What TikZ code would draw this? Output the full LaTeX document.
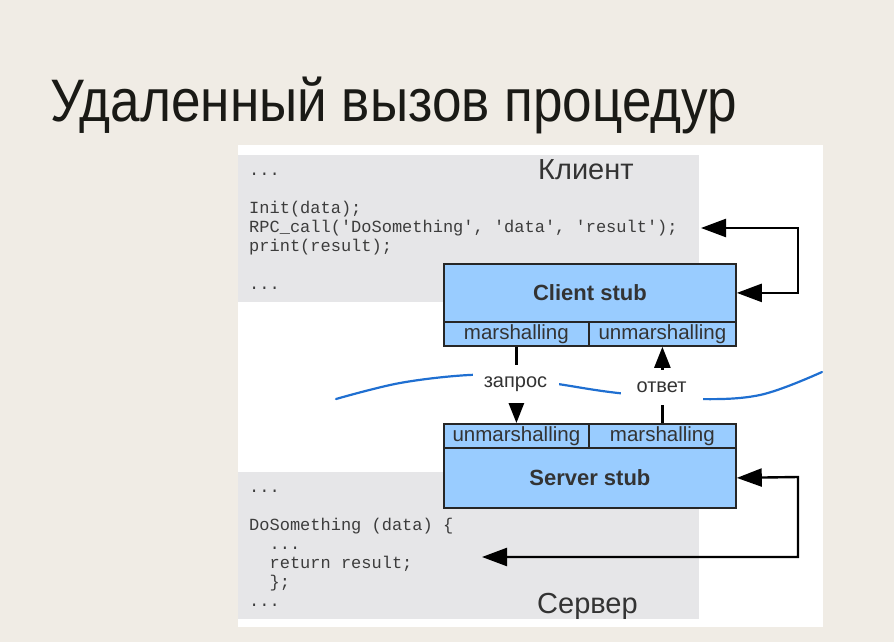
\documentclass[tikz,border=0pt]{standalone}
\usepackage{fontspec}
\usepackage{graphicx}
\setmainfont{Liberation Sans}
\newfontfamily\codefont[Ligatures=TeXOff]{Liberation Mono}
\usetikzlibrary{arrows.meta}

\definecolor{slidebg}{HTML}{F0ECE5}
\definecolor{codebg}{HTML}{E6E6E8}
\definecolor{stubfill}{HTML}{99CCFF}
\definecolor{wire}{HTML}{1F6FD1}
\definecolor{ink}{HTML}{333333}
\definecolor{codeink}{HTML}{3C3C3C}
\definecolor{titleink}{HTML}{1A1A16}

\tikzset{
  cell/.style={draw=black!85, line width=1.8pt, fill=stubfill, inner sep=0pt,
    anchor=north west, text=ink, font=\fontsize{20.5}{24}\selectfont},
  stubname/.style={cell, font=\fontsize{22}{26}\selectfont\bfseries},
  codeline/.style={anchor=base west, inner sep=0pt, text=codeink,
    font=\codefont\fontsize{17}{19}\selectfont},
  sidename/.style={anchor=base west, inner sep=0pt, text=ink,
    font=\fontsize{29}{32}\selectfont},
  flowlabel/.style={fill=white, inner sep=0pt, text=ink,
    font=\fontsize{20}{24}\selectfont},
  link/.style={line width=2.4pt, black,
    {Triangle[length=25pt,width=18pt]}-{Triangle[length=25pt,width=18pt]}},
  pass/.style={line width=2.4pt, black, -{Triangle[length=21pt,width=16pt]}},
}

\begin{document}
\begin{tikzpicture}[x=1pt, y=-1pt]
  % slide background and white panel
  \fill[slidebg] (0,0) rectangle (894,642);
  \useasboundingbox (0,0) rectangle (894,642);
  \fill[white] (238,145) rectangle (823,627);
  \fill[codebg] (238,155) rectangle (699,302);
  \fill[codebg] (238,472) rectangle (699,619);

  % title
  \node[anchor=base west, inner sep=0pt, text=titleink,
        font=\fontsize{60}{66}\selectfont] (title) at (50,121)
        {\scalebox{0.885}[1]{Удаленный вызов процедур}};

  % client code
  \node[codeline] (c1) at (249,175) {...};
  \node[codeline] (c2) at (249,213) {Init(data);};
  \node[codeline] (c3) at (249,232) {RPC\_call('DoSomething', 'data', 'result');};
  \node[codeline] (c4) at (249,251) {print(result);};
  \node[codeline] (c5) at (249,289) {...};
  \node[sidename] (client) at (538,179) {Клиент};

  % server code
  \node[codeline] (s1) at (249,492) {...};
  \node[codeline] (s2) at (249,530) {DoSomething (data) \{};
  \node[codeline] (s3) at (269.4,549) {...};
  \node[codeline] (s4) at (269.4,568) {return result;};
  \node[codeline] (s5) at (269.4,587) {\};};
  \node[codeline] (s6) at (249,606) {...};
  \node[sidename] (server) at (537,613) {Сервер};

  % network wire
  \draw[wire, line width=2.2pt, line cap=round]
    plot[smooth, tension=0.6] coordinates {(336,399) (400,383) (469,375) (512,377)
      (558,384) (618,393) (693,399) (760,395) (822,372)};

  % client stub
  \node[stubname, minimum width=292pt, minimum height=58pt] (cs) at (443,263) {Client stub};
  \node[cell, minimum width=145pt, minimum height=24pt] (csm) at (443,321) {marshalling};
  \node[cell, minimum width=147pt, minimum height=24pt] (csu) at (588,321) {unmarshalling};

  % server stub
  \node[cell, minimum width=145pt, minimum height=24pt] (ssu) at (443,423) {unmarshalling};
  \node[cell, minimum width=147pt, minimum height=24pt] (ssm) at (588,423) {marshalling};
  \node[stubname, minimum width=292pt, minimum height=60pt] (ss) at (443,447) {Server stub};

  % calls between code and stubs
  \coordinate (callpt) at (701,228);
  \coordinate (retpt) at (482,557);
  \draw[link] (callpt) -- (798,228) |- (cs.east);
  \draw[link] (ss.east) -- (798,477) |- (retpt);

  % request and reply
  \draw[pass] (csm.south) -- (ssu.north);
  \draw[pass] (ssm.north) -- (csu.south);
  \node[flowlabel, minimum width=86pt, minimum height=38pt] (req) at (515.5,384) {запрос};
  \node[flowlabel, minimum width=82pt, minimum height=35pt] (rep) at (661.5,387) {ответ};
\end{tikzpicture}
\end{document}
